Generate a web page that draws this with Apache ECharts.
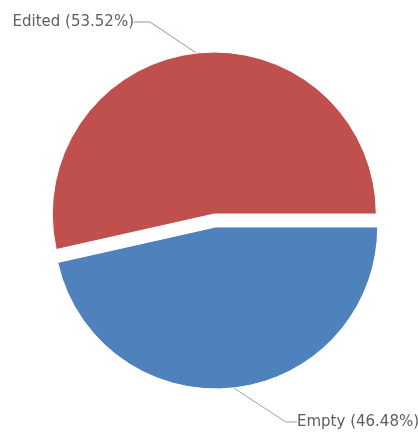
<!DOCTYPE html>
<html>
<head>
<meta charset="utf-8">
<script src="https://cdn.jsdelivr.net/npm/echarts@6/dist/echarts.min.js"></script>
<style>
  html, body { margin: 0; padding: 0; background: #ffffff; }
  #chart { width: 418px; height: 435px; }
</style>
</head>
<body>
<div id="chart"></div>
<script>
// Share of cells by state
const categories = ['Edited', 'Empty'];
const shares = [53.52, 46.48];
const sliceColors = ['#C0504D', '#4F81BD'];
const lineColors = ['#b98589', '#98a2b2'];

// Outside label anchor and alignment for each slice
const labelSpots = [
  { x: 134, y: 22, align: 'right', tail: 16 },
  { x: 297, y: 422, align: 'left', tail: 11 }
];

const pieCenter = [215, 220.5];
const pieRadius = 162;
const explode = 6.5;    // each slice is pulled out along its bisector
const startAngle = 0;   // degrees, counter-clockwise

const chart = echarts.init(document.getElementById('chart'), null, { renderer: 'canvas' });

const total = shares.reduce((a, b) => a + b, 0);

// One pie series per slice so each slice can carry its own pulled-out centre;
// the other slices in that series are left invisible.
let angleSoFar = startAngle;
const series = categories.map((name, k) => {
  const sweep = shares[k] / total * 360;
  const mid = (angleSoFar + sweep / 2) * Math.PI / 180;
  angleSoFar += sweep;
  const cx = pieCenter[0] + explode * Math.cos(mid);
  const cy = pieCenter[1] - explode * Math.sin(mid);
  const spot = labelSpots[k];
  return {
    type: 'pie',
    center: [cx, cy],
    radius: pieRadius,
    startAngle: startAngle,
    clockwise: false,
    avoidLabelOverlap: false,
    emphasis: { disabled: true },
    label: {
      show: true,
      position: 'outside',
      formatter: '{b} ({c}%)',
      fontFamily: 'DejaVu Sans',
      fontSize: 15,
      color: '#5e5e5e'
    },
    labelLine: {
      show: true,
      length: 20,
      length2: spot.tail,
      lineStyle: { width: 1, color: lineColors[k] }
    },
    labelLayout: function () {
      return { x: spot.x, y: spot.y, align: spot.align, verticalAlign: 'middle' };
    },
    data: categories.map((n, i) => i === k ? {
      name: n,
      value: shares[i],
      itemStyle: { color: sliceColors[i], borderColor: '#ffffff', borderWidth: 1 }
    } : {
      name: n,
      value: shares[i],
      itemStyle: { color: 'rgba(0,0,0,0)', borderWidth: 0 },
      label: { show: false },
      labelLine: { show: false },
      tooltip: { show: false }
    })
  };
});

chart.setOption({ animation: false, series: series });
</script>
</body>
</html>
